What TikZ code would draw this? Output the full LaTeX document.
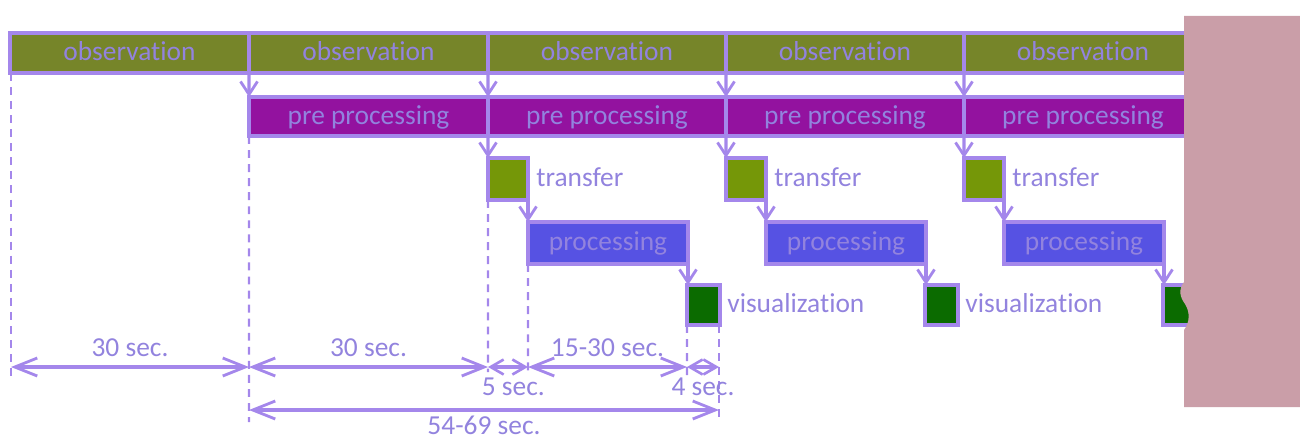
\documentclass[tikz,border=0pt]{standalone}
\usepackage{fontspec}
\setmainfont{Carlito}[Ligatures=NoCommon]
\usetikzlibrary{arrows.meta}

\definecolor{edge}{HTML}{A487EB}
\definecolor{ink}{HTML}{9283DE}
\definecolor{obsfill}{HTML}{768529}
\definecolor{prefill}{HTML}{93129F}
\definecolor{trfill}{HTML}{759708}
\definecolor{procfill}{HTML}{5652E3}
\definecolor{visfill}{HTML}{0B6B00}
\definecolor{cover}{HTML}{CA9EA8}

\tikzset{
  box/.style={draw=edge, line width=1.9pt, inner sep=0pt, outer sep=0pt,
              text=ink, font=\fontsize{15.6}{18}\selectfont,
              text height=9pt, text depth=0pt},
  obsbox/.style={box, fill=obsfill, minimum height=0.8cm},
  prebox/.style={box, fill=prefill, minimum height=0.78cm},
  trbox/.style={box, fill=trfill, minimum width=0.8cm, minimum height=0.84cm},
  procbox/.style={box, fill=procfill, minimum width=3.2cm, minimum height=0.84cm},
  visbox/.style={box, fill=visfill, minimum width=0.66cm, minimum height=0.8cm},
  flow/.style={draw=edge, line width=1.9pt,
               -{Straight Barb[length=2.6mm,width=3.4mm,line width=1.6pt]}},
  guide/.style={draw=edge, line width=1.2pt, dash pattern=on 4.5pt off 3.5pt},
  span/.style={draw=edge, line width=1.9pt, {Straight Barb[length=4.5mm,width=3.6mm,line width=1.6pt]}-{Straight Barb[length=4.5mm,width=3.6mm,line width=1.6pt]}},
  shortspan/.style={draw=edge, line width=1.9pt, {Straight Barb[length=2.6mm,width=3mm,line width=1.5pt]}-{Straight Barb[length=2.6mm,width=3mm,line width=1.5pt]}},
  tag/.style={text=ink, font=\fontsize{15.6}{18}\selectfont, inner sep=0pt},
}

\begin{document}
\begin{tikzpicture}[x=0.02cm,y=-0.02cm]
\useasboundingbox (0,0) rectangle (1300,439);

% observation row
\node[obsbox, line width=2.5pt, minimum width=4.78cm] (obs1) at (129.5,53) {observation};
\node[obsbox, minimum width=4.78cm] (obs2) at (368.5,53) {observation};
\node[obsbox, minimum width=4.76cm] (obs3) at (607,53) {observation};
\node[obsbox, minimum width=4.76cm] (obs4) at (845,53) {observation};
\node[obsbox, minimum width=4.76cm] (obs5) at (1083,53) {observation};

% pre processing row
\node[prebox, minimum width=4.78cm] (pre1) at (368.5,116.5) {pre processing};
\node[prebox, minimum width=4.76cm] (pre2) at (607,116.5) {pre processing};
\node[prebox, minimum width=4.76cm] (pre3) at (845,116.5) {pre processing};
\node[prebox, minimum width=4.76cm] (pre4) at (1083,116.5) {pre processing};

% transfer
\node[trbox] (tr1) at (508,179) {};
\node[trbox] (tr2) at (746,179) {};
\node[trbox] (tr3) at (984,179) {};
\node[tag, anchor=west] (trl1) at (536,177) {transfer};
\node[tag, anchor=west] (trl2) at (774,177) {transfer};
\node[tag, anchor=west] (trl3) at (1012,177) {transfer};

% processing
\node[procbox] (proc1) at (608,243) {processing};
\node[procbox] (proc2) at (846,243) {processing};
\node[procbox] (proc3) at (1084,243) {processing};

% visualization
\node[visbox] (vis1) at (703.5,305) {};
\node[visbox] (vis2) at (941.5,305) {};
\node[visbox] (vis3) at (1179.5,305) {};
\node[tag, anchor=west] (visl1) at (727,303) {visualization};
\node[tag, anchor=west] (visl2) at (965,303) {visualization};

% flow arrows between stages
\draw[flow] (obs1.south east) -- (pre1.north west);
\draw[flow] (obs2.south east) -- (pre2.north west);
\draw[flow] (obs3.south east) -- (pre3.north west);
\draw[flow] (obs4.south east) -- (pre4.north west);
\draw[flow] (pre1.south east) -- (tr1.north west);
\draw[flow] (pre2.south east) -- (tr2.north west);
\draw[flow] (pre3.south east) -- (tr3.north west);
\draw[flow] (tr1.south east) -- (tr1.south east |- proc1.north);
\draw[flow] (tr2.south east) -- (tr2.south east |- proc2.north);
\draw[flow] (tr3.south east) -- (tr3.south east |- proc3.north);
\draw[flow] (proc1.south east) -- (proc1.south east |- vis1.north);
\draw[flow] (proc2.south east) -- (proc2.south east |- vis2.north);
\draw[flow] (proc3.south east) -- (proc3.south east |- vis3.north);

% guide lines
\coordinate (g0) at (11,380);
\coordinate (g1) at (249,422);
\coordinate (g2) at (488,372);
\coordinate (g3) at (528,372);
\coordinate (g4) at (687,380);
\coordinate (g5) at (719,422);
\draw[guide] (11,73) -- (g0);
\draw[guide] (pre1.south west) -- (g1);
\draw[guide] (tr1.south west) -- (g2);
\draw[guide] (proc1.south west) -- (g3);
\draw[guide] (vis1.south west) -- (g4);
\draw[guide] (719,325) -- (g5);

% durations
\coordinate (a0) at (11,367);
\coordinate (a1) at (249,367);
\coordinate (a2) at (488,367);
\coordinate (a3) at (528,367);
\coordinate (a4) at (687,367);
\coordinate (a5) at (719,367);
\coordinate (b1) at (249,410);
\coordinate (b5) at (719,410);
\draw[span] (a0) -- node[tag, above=5pt] {30 sec.} (a1);
\draw[span] (a1) -- node[tag, above=5pt] {30 sec.} (a2);
\draw[shortspan] (a2) -- node[tag, below=5pt, xshift=3pt] {5 sec.} (a3);
\draw[span] (a3) -- node[tag, above=5pt] {15-30 sec.} (a4);
\draw[shortspan] (a4) -- node[tag, below=5pt] {4 sec.} (a5);
\draw[span] (b1) -- node[tag, below=2.5pt] {54-69 sec.} (b5);

% covering panel on the right
\fill[cover] (1184,16) -- (1300,16) -- (1300,407) -- (1184,407) -- (1184,330)
  .. controls (1190,322) and (1190,312) .. (1185,304)
  .. controls (1180,297) and (1178,290) .. (1184,282) -- cycle;
\end{tikzpicture}
\end{document}
